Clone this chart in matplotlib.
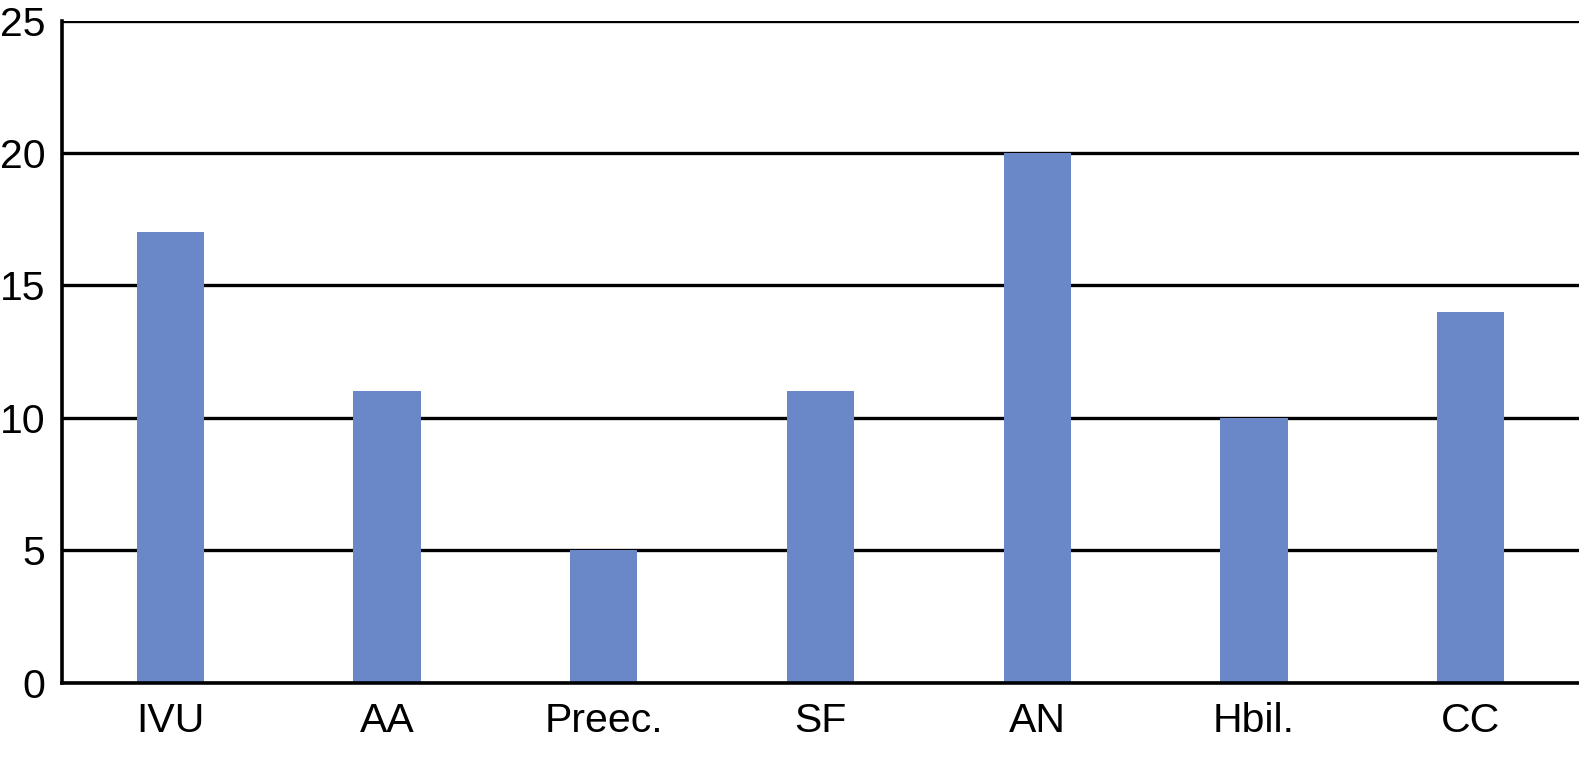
import matplotlib.pyplot as plt

plt.rcParams['font.family'] = ['Liberation Sans', 'DejaVu Sans']

categories = ['IVU', 'AA', 'Preec.', 'SF', 'AN', 'Hbil.', 'CC']
values = [17, 11, 5, 11, 20, 10, 14]
yticks = [0, 5, 10, 15, 20, 25]

fig = plt.figure(figsize=(15.79, 7.57), dpi=100)
ax = fig.add_axes([62 / 1579, 1 - 682.5 / 757, 1 - 62 / 1579, (682.5 - 20.5) / 757])

x = range(len(categories))
ax.bar(x, values, width=0.31, color='#6a87c8', zorder=3)

ax.set_xlim(-0.5, 6.5)
ax.set_ylim(0, 25)
ax.set_yticks(yticks)
ax.set_xticks(list(x))
ax.set_xticklabels(categories)
ax.yaxis.grid(True, color='black', linewidth=2.4, zorder=1)
ax.set_axisbelow(True)

for side in ['top', 'right']:
    ax.spines[side].set_visible(False)
for side in ['left', 'bottom']:
    ax.spines[side].set_linewidth(2.6)
    ax.spines[side].set_zorder(4)

ax.tick_params(axis='both', length=0, labelsize=29.5)
ax.tick_params(axis='y', pad=12)
ax.tick_params(axis='x', pad=14)

fig.savefig('out.png', dpi=100)
